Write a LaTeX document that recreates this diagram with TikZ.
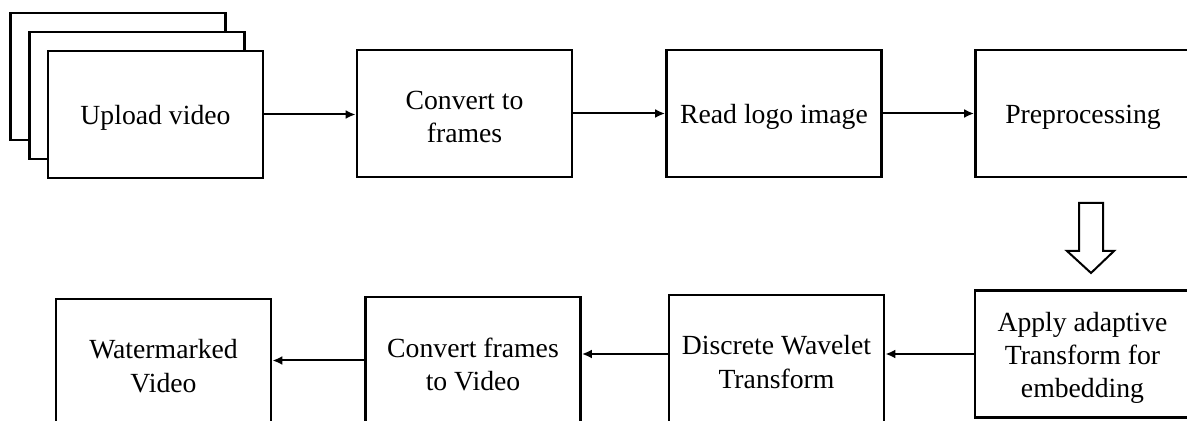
\documentclass[tikz,border=0pt]{standalone}
\usepackage{fontspec}
\setmainfont{Liberation Serif}
\usetikzlibrary{arrows.meta,calc}
\begin{document}
\begin{tikzpicture}[x=0.5pt,y=-0.5pt,
  box/.style={draw,line width=1.4pt,fill=white,minimum width=107.5pt,minimum height=63.5pt,inner sep=0pt},
  txt/.style={align=center,inner sep=0pt,yshift=-1.8pt,font=\fontsize{13.85}{16.6}\selectfont},
  conn/.style={line width=1pt,-{Latex[length=5pt,width=4.5pt]}},
  hollow/.style={draw,line width=1pt,fill=white,line join=miter}]
\useasboundingbox (0,0) rectangle (1187,421);
\clip (0,0) rectangle (1187,421);
% stacked upload boxes
\node[box] (back1) at (118,76.5) {};
\node[box] (back2) at (137,95.5) {};
\node[box,label={[txt]center:Upload video}] (upload) at (155.5,114.5) {};
\node[box,label={[txt]center:Convert to\\frames}] (convert) at (464.5,113.5) {};
\node[box,label={[txt]center:Read logo image}] (readlogo) at (774,113.5) {};
\node[box,label={[txt]center:Preprocessing}] (prep) at (1083,113.5) {};
% bottom row
\node[box,label={[txt]center:Apply adaptive\\Transform for\\embedding}] (apply) at (1082.5,354) {};
\node[box,label={[txt]center:Discrete Wavelet\\Transform}] (dwt) at (776.5,358.5) {};
\node[box,label={[txt]center:Convert frames\\to Video}] (cfv) at (473,360.5) {};
\node[box,label={[txt]center:Watermarked\\Video}] (wm) at (163.5,362.5) {};
% connectors
\draw[conn] (upload.east) -- (upload.east -| convert.west);
\draw[conn] (convert.east) -- (convert.east -| readlogo.west);
\draw[conn] (readlogo.east) -- (readlogo.east -| prep.west);
\draw[conn] (apply.west) -- (apply.west -| dwt.east);
\draw[conn] (dwt.west |- apply.west) -- (apply.west -| cfv.east);
\draw[conn] (cfv.west) -- (cfv.west -| wm.east);
% hollow down arrow
\draw[hollow] (1079,203) -- (1103,203) -- (1103,251) -- (1114,251) -- (1091,273) -- (1067,251) -- (1079,251) -- cycle;
\end{tikzpicture}
\end{document}
